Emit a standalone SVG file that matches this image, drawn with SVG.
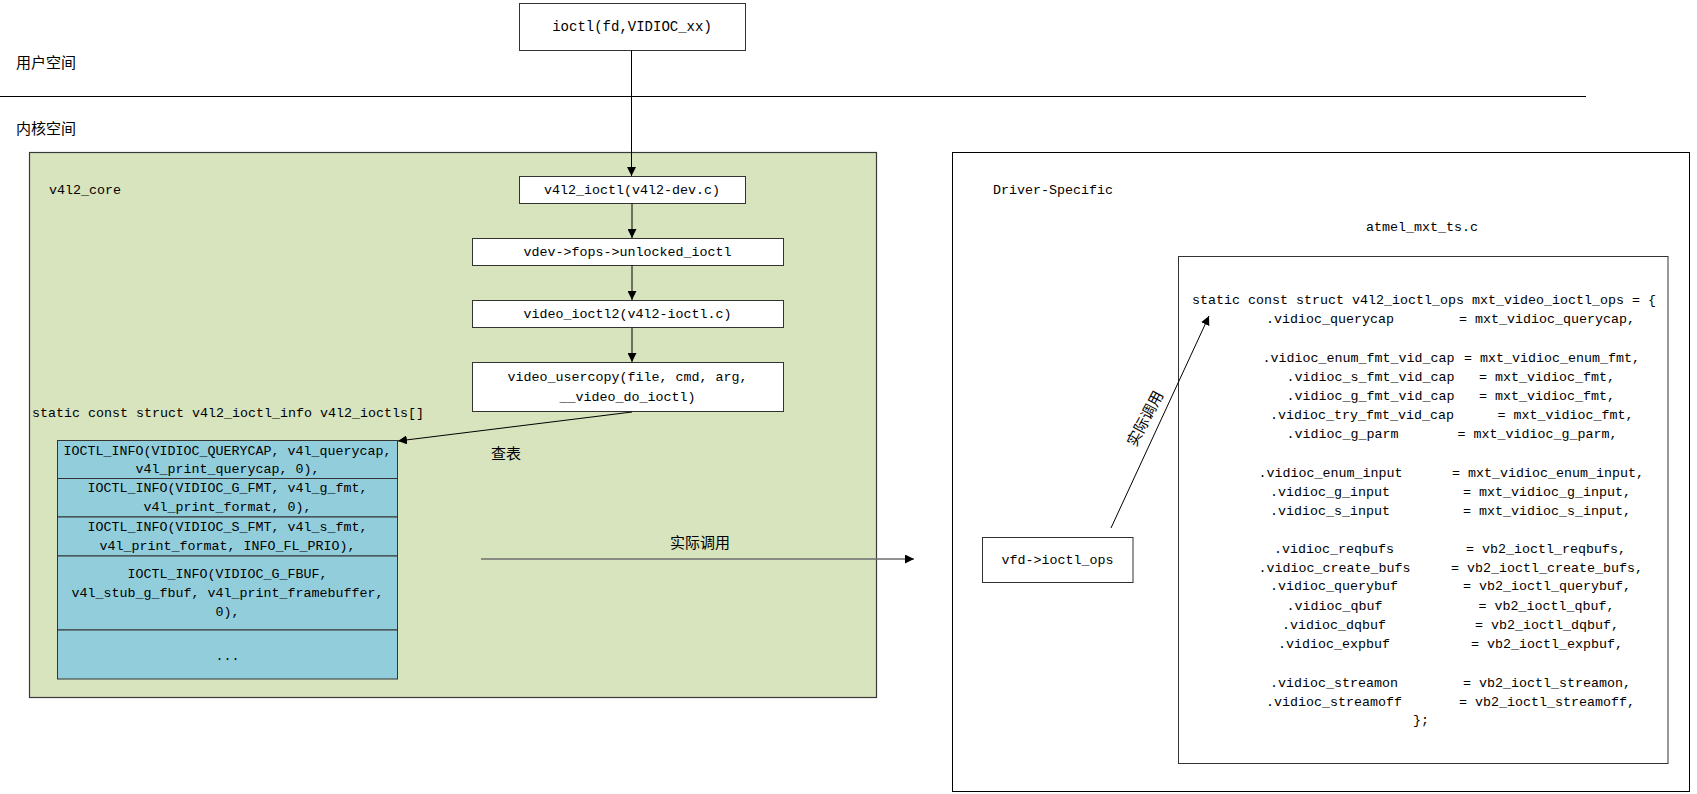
<svg xmlns="http://www.w3.org/2000/svg" width="1697" height="794" viewBox="0 0 1697 794">
<style>
.m{font-family:"Liberation Mono","DejaVu Sans Mono",monospace;font-size:13.33px;fill:#000;dominant-baseline:central}
.mc{text-anchor:middle}
.cn{font-family:"Noto Sans CJK SC","Noto Sans",sans-serif;font-size:15px;fill:#000;dominant-baseline:central}
.box{fill:#fff;stroke:#333;stroke-width:1}
.cell{fill:#92CDDC;stroke:#333;stroke-width:1}
.ln{stroke:#000;stroke-width:1;fill:none}
</style>
<defs>
<marker id="ah" viewBox="0 0 10 10" refX="10" refY="5" markerWidth="9" markerHeight="9" markerUnits="userSpaceOnUse" orient="auto">
<path d="M0,0 L10,5 L0,10 z" fill="#000"/>
</marker>
</defs>

<g id="regions">
<line x1="0" y1="96.5" x2="1586" y2="96.5" stroke="#000" stroke-width="1"/>
<text class="cn" x="16" y="61">用户空间</text>
<text class="cn" x="16" y="127">内核空间</text>
</g>

<g id="v4l2_core">
<rect x="29.5" y="152.5" width="847" height="545" fill="#D7E4BD" stroke="#3a3a3a" stroke-width="1.2"/>
<text class="m" x="49" y="190">v4l2_core</text>
<text class="m" x="32" y="413">static const struct v4l2_ioctl_info v4l2_ioctls[]</text>
</g>

<g id="driver_specific">
<rect x="952.5" y="152.5" width="737" height="639" fill="#fff" stroke="#000" stroke-width="1"/>
<text class="m" x="993" y="190">Driver-Specific</text>
<text class="m mc" x="1422" y="227">atmel_mxt_ts.c</text>
</g>

<g id="node_ioctl">
<rect class="box" x="519.5" y="3.5" width="226" height="47"/>
<text class="m mc" x="632" y="27" style="font-size:14px">ioctl(fd,VIDIOC_xx)</text>
</g>

<g id="node_v4l2_ioctl">
<rect class="box" x="519.5" y="176.5" width="226" height="27"/>
<text class="m mc" x="632" y="190">v4l2_ioctl(v4l2-dev.c)</text>
</g>

<g id="node_unlocked_ioctl">
<rect class="box" x="472.5" y="238.5" width="311" height="27"/>
<text class="m mc" x="627.5" y="252">vdev-&gt;fops-&gt;unlocked_ioctl</text>
</g>

<g id="node_video_ioctl2">
<rect class="box" x="472.5" y="300.5" width="311" height="27"/>
<text class="m mc" x="627.5" y="314">video_ioctl2(v4l2-ioctl.c)</text>
</g>

<g id="node_video_usercopy">
<rect class="box" x="472.5" y="362.5" width="311" height="49"/>
<text class="m mc" x="627.5" y="377">video_usercopy(file, cmd, arg,</text>
<text class="m mc" x="627.5" y="397">__video_do_ioctl)</text>
</g>

<g id="node_ioctl_table">
<rect class="cell" x="57.5" y="440.5" width="340" height="38"/>
<rect class="cell" x="57.5" y="478.5" width="340" height="38.5"/>
<rect class="cell" x="57.5" y="517" width="340" height="39"/>
<rect class="cell" x="57.5" y="556" width="340" height="74"/>
<rect class="cell" x="57.5" y="630" width="340" height="49"/>
<text class="m mc" x="227.5" y="451">IOCTL_INFO(VIDIOC_QUERYCAP, v4l_querycap,</text>
<text class="m mc" x="227.5" y="469.5">v4l_print_querycap, 0),</text>
<text class="m mc" x="227.5" y="488.5">IOCTL_INFO(VIDIOC_G_FMT, v4l_g_fmt,</text>
<text class="m mc" x="227.5" y="507.5">v4l_print_format, 0),</text>
<text class="m mc" x="227.5" y="527.5">IOCTL_INFO(VIDIOC_S_FMT, v4l_s_fmt,</text>
<text class="m mc" x="227.5" y="546">v4l_print_format, INFO_FL_PRIO),</text>
<text class="m mc" x="227.5" y="574">IOCTL_INFO(VIDIOC_G_FBUF,</text>
<text class="m mc" x="227.5" y="593.5">v4l_stub_g_fbuf, v4l_print_framebuffer,</text>
<text class="m mc" x="227.5" y="612">0),</text>
<text class="m mc" x="227.5" y="656">...</text>
</g>

<g id="node_vfd">
<rect class="box" x="982.5" y="537.5" width="150.5" height="45"/>
<text class="m mc" x="1057.5" y="560">vfd-&gt;ioctl_ops</text>
</g>

<g id="node_ioctl_ops">
<rect x="1178.5" y="256.5" width="489.5" height="507" fill="#fff" stroke="#333" stroke-width="1"/>
<text class="m" x="1192" y="300">static const struct v4l2_ioctl_ops mxt_video_ioctl_ops = {</text>
<text class="m" y="319"><tspan x="1266">.vidioc_querycap</tspan><tspan x="1459">= mxt_vidioc_querycap,</tspan></text>
<text class="m" y="358"><tspan x="1262.5">.vidioc_enum_fmt_vid_cap</tspan><tspan x="1464">= mxt_vidioc_enum_fmt,</tspan></text>
<text class="m" y="377"><tspan x="1286.5">.vidioc_s_fmt_vid_cap</tspan><tspan x="1479">= mxt_vidioc_fmt,</tspan></text>
<text class="m" y="396"><tspan x="1286.5">.vidioc_g_fmt_vid_cap</tspan><tspan x="1479">= mxt_vidioc_fmt,</tspan></text>
<text class="m" y="415"><tspan x="1270">.vidioc_try_fmt_vid_cap</tspan><tspan x="1497.5">= mxt_vidioc_fmt,</tspan></text>
<text class="m" y="434"><tspan x="1286.5">.vidioc_g_parm</tspan><tspan x="1457.5">= mxt_vidioc_g_parm,</tspan></text>
<text class="m" y="473"><tspan x="1258.5">.vidioc_enum_input</tspan><tspan x="1452">= mxt_vidioc_enum_input,</tspan></text>
<text class="m" y="492"><tspan x="1270">.vidioc_g_input</tspan><tspan x="1463">= mxt_vidioc_g_input,</tspan></text>
<text class="m" y="511"><tspan x="1270">.vidioc_s_input</tspan><tspan x="1463">= mxt_vidioc_s_input,</tspan></text>
<text class="m" y="548.5"><tspan x="1274">.vidioc_reqbufs</tspan><tspan x="1466">= vb2_ioctl_reqbufs,</tspan></text>
<text class="m" y="567.5"><tspan x="1258.5">.vidioc_create_bufs</tspan><tspan x="1451">= vb2_ioctl_create_bufs,</tspan></text>
<text class="m" y="586"><tspan x="1270">.vidioc_querybuf</tspan><tspan x="1463">= vb2_ioctl_querybuf,</tspan></text>
<text class="m" y="605.5"><tspan x="1286.5">.vidioc_qbuf</tspan><tspan x="1478.5">= vb2_ioctl_qbuf,</tspan></text>
<text class="m" y="625"><tspan x="1282">.vidioc_dqbuf</tspan><tspan x="1475">= vb2_ioctl_dqbuf,</tspan></text>
<text class="m" y="644"><tspan x="1278">.vidioc_expbuf</tspan><tspan x="1471">= vb2_ioctl_expbuf,</tspan></text>
<text class="m" y="682.5"><tspan x="1270">.vidioc_streamon</tspan><tspan x="1463">= vb2_ioctl_streamon,</tspan></text>
<text class="m" y="701.5"><tspan x="1266">.vidioc_streamoff</tspan><tspan x="1459">= vb2_ioctl_streamoff,</tspan></text>
<text class="m" x="1413" y="720">};</text>
</g>

<g id="connectors">
<line class="ln" x1="631.5" y1="50.5" x2="631.5" y2="176" marker-end="url(#ah)"/>
<line class="ln" x1="632" y1="203.5" x2="632" y2="238" marker-end="url(#ah)"/>
<line class="ln" x1="632" y1="265.5" x2="632" y2="300" marker-end="url(#ah)"/>
<line class="ln" x1="632" y1="327.5" x2="632" y2="362" marker-end="url(#ah)"/>
<line class="ln" x1="632" y1="412" x2="398" y2="441" marker-end="url(#ah)"/>
<text class="cn" x="491" y="452">查表</text>
<line x1="481" y1="559" x2="914" y2="559" stroke="#6e6e6e" stroke-width="1.5" marker-end="url(#ah)"/>
<text class="cn" x="700" y="541" text-anchor="middle">实际调用</text>
<line class="ln" x1="1111" y1="528" x2="1209" y2="316" marker-end="url(#ah)"/>
<text class="cn" x="1144" y="418" text-anchor="middle" transform="rotate(-62 1144 418)">实际调用</text>
</g>
</svg>
